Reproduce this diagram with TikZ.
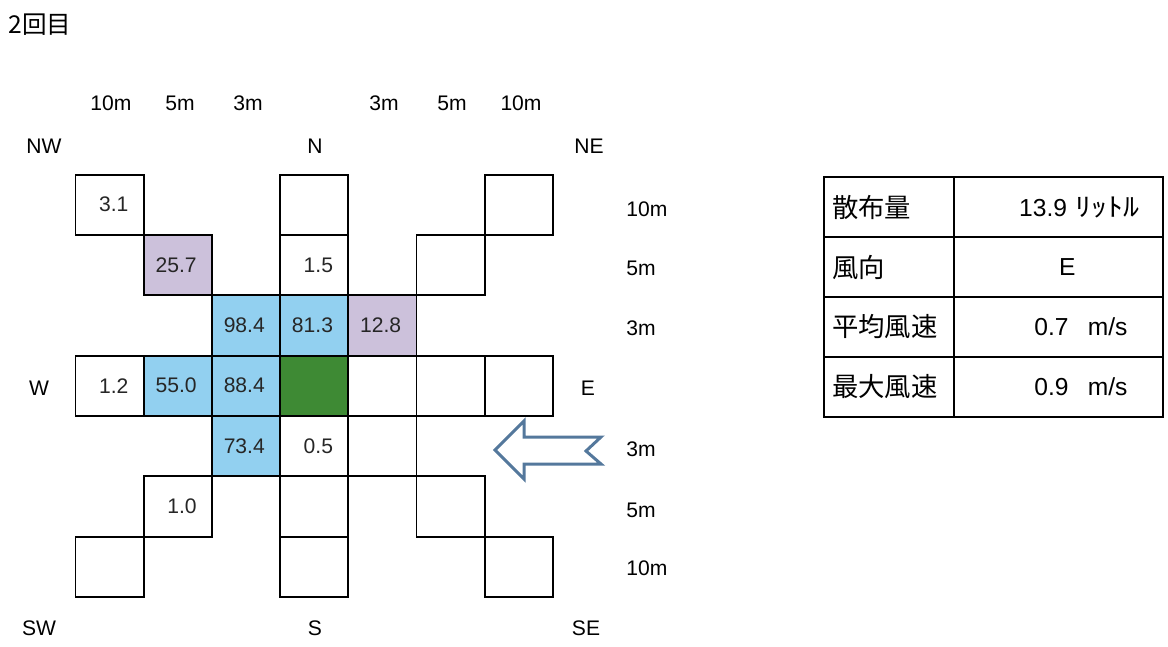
\documentclass[tikz,border=0pt]{standalone}
\usepackage{fontspec}
\setmainfont{Liberation Sans}
\newfontfamily\jp{Noto Sans CJK JP}
\usepackage{tikz}
\usetikzlibrary{positioning}

\definecolor{sky}{RGB}{146,208,240}
\definecolor{lilac}{RGB}{204,193,219}
\definecolor{leaf}{RGB}{62,138,52}
\definecolor{windblue}{RGB}{84,120,156}

\begin{document}
  \begin{tikzpicture}[x=0.02cm, y=-0.02cm,
      cell/.style={draw, line width=1.1pt, minimum width=1.364cm,
        minimum height=1.207cm, inner sep=0pt, outer sep=0pt},
      val/.style={inner sep=0pt, text=black!85, font=\fontsize{12}{14}\selectfont},
      lab/.style={inner sep=0pt, font=\fontsize{12}{14}\selectfont},
      tkey/.style={draw, line width=1.3pt, minimum width=2.6cm, minimum height=1.2cm,
        text width=2.28cm, align=left, inner sep=0pt, outer sep=0pt,
        font=\jp\fontsize{15}{17}\selectfont},
      tval/.style={draw, line width=1.3pt, minimum width=4.18cm, minimum height=1.2cm,
        inner sep=0pt, outer sep=0pt},
      tnum/.style={inner sep=0pt, font=\fontsize{14}{16}\selectfont}]
    \useasboundingbox (0,0) rectangle (1168,646);

    \node[anchor=west, inner sep=0pt, font=\jp\fontsize{14}{16}\selectfont]
      (title) at (8,25) {2回目};

    % cells
    \node[cell] (nw10) at (109.6,204.7) {};
    \node[cell, fill=lilac] (nw5) at (177.8,265.0) {};
    \node[cell, fill=sky] (nw3) at (246.0,325.4) {};
    \node[cell] (n10) at (314.2,204.7) {};
    \node[cell] (n5) at (314.2,265.0) {};
    \node[cell, fill=sky] (n3) at (314.2,325.4) {};
    \node[cell] (ne10) at (518.8,204.7) {};
    \node[cell] (ne5) at (450.6,265.0) {};
    \node[cell, fill=lilac] (ne3) at (382.4,325.4) {};
    \node[cell] (w10) at (109.6,385.7) {};
    \node[cell, fill=sky] (w5) at (177.8,385.7) {};
    \node[cell, fill=sky] (w3) at (246.0,385.7) {};
    \node[cell, fill=leaf] (ctr) at (314.2,385.7) {};
    \node[cell] (e3) at (382.4,385.7) {};
    \node[cell] (e5) at (450.6,385.7) {};
    \node[cell] (e10) at (518.8,385.7) {};
    \node[cell, fill=sky] (sw3) at (246.0,446.1) {};
    \node[cell] (s3) at (314.2,446.1) {};
    \node[cell] (se3) at (382.4,446.1) {};
    \node[cell] (sw5) at (177.8,506.4) {};
    \node[cell] (s5) at (314.2,506.4) {};
    \node[cell] (se5) at (450.6,506.4) {};
    \node[cell] (sw10) at (109.6,566.8) {};
    \node[cell] (s10) at (314.2,566.8) {};
    \node[cell] (se10) at (518.8,566.8) {};

    \node[val, left=8.5pt of nw10.east] (nw10v) {3.1};
    \node[val, left=8.5pt of nw5.east] (nw5v) {25.7};
    \node[val, left=8.5pt of nw3.east] (nw3v) {98.4};
    \node[val, left=8.5pt of n5.east] (n5v) {1.5};
    \node[val, left=8.5pt of n3.east] (n3v) {81.3};
    \node[val, left=8.5pt of ne3.east] (ne3v) {12.8};
    \node[val, left=8.5pt of w10.east] (w10v) {1.2};
    \node[val, left=8.5pt of w5.east] (w5v) {55.0};
    \node[val, left=8.5pt of w3.east] (w3v) {88.4};
    \node[val, left=8.5pt of sw3.east] (sw3v) {73.4};
    \node[val, left=8.5pt of s3.east] (s3v) {0.5};
    \node[val, left=8.5pt of sw5.east] (sw5v) {1.0};

    % distances and directions
    \node[lab] (h1) at (111,103) {10m};
    \node[lab] (h2) at (180,103) {5m};
    \node[lab] (h3) at (248,103) {3m};
    \node[lab] (h4) at (384,103) {3m};
    \node[lab] (h5) at (452,103) {5m};
    \node[lab] (h6) at (521,103) {10m};
    \node[lab, anchor=west] (r1) at (626,209) {10m};
    \node[lab, anchor=west] (r2) at (626,268) {5m};
    \node[lab, anchor=west] (r3) at (626,328) {3m};
    \node[lab, anchor=west] (r5) at (626,449) {3m};
    \node[lab, anchor=west] (r6) at (626,510) {5m};
    \node[lab, anchor=west] (r7) at (626,568) {10m};
    \node[lab] (nwl) at (44,146) {NW};
    \node[lab] (nl) at (315,146) {N};
    \node[lab] (nel) at (589,146) {NE};
    \node[lab] (wl) at (39,388) {W};
    \node[lab] (el) at (588,388) {E};
    \node[lab] (swl) at (39,628) {SW};
    \node[lab] (sl) at (315,628) {S};
    \node[lab] (sel) at (586,628) {SE};

    \draw[windblue, line width=1.7pt, fill=white, line join=miter]
      (495,450) -- (524,421) -- (524,437) -- (601,437) -- (586,451)
      -- (601,464) -- (524,464) -- (524,479) -- cycle;

    % table
    \node[tkey] (k1) at (889,207) {散布量};
    \node[tkey] (k2) at (889,267) {風向};
    \node[tkey] (k3) at (889,327) {平均風速};
    \node[tkey] (k4) at (889,387) {最大風速};
    \node[tval] (v1) at (1058.5,207) {};
    \node[tval] (v2) at (1058.5,267) {};
    \node[tval] (v3) at (1058.5,327) {};
    \node[tval] (v4) at (1058.5,387) {};
    \node[tnum, left=13pt of v1.east] (v1t) {13.9\hspace{5pt}{\jp\scalebox{1.3}[1.05]{ﾘｯﾄﾙ}}};
    \node[tnum] (v2t) at ([xshift=5pt]v2.center) {E};
    \node[tnum, left=20pt of v3.east] (v3t) {0.7\hspace{11pt}m/s};
    \node[tnum, left=20pt of v4.east] (v4t) {0.9\hspace{11pt}m/s};
  \end{tikzpicture}
\end{document}
